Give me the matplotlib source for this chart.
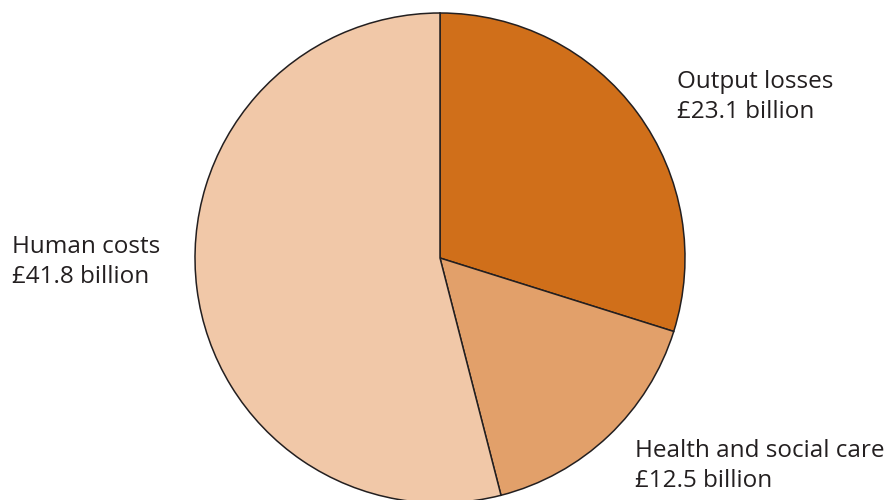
import matplotlib
matplotlib.use("Agg")
import matplotlib.pyplot as plt

# cost breakdown, £ billion
labels = ["Output losses", "Health and social care", "Human costs"]
values = [23.1, 12.5, 41.8]
value_text = ["£23.1 billion", "£12.5 billion", "£41.8 billion"]
colors = ["#D06F1A", "#E2A06A", "#F1C8A8"]

plt.rcParams['font.family'] = ['Open Sans', 'DejaVu Sans']

fig = plt.figure(figsize=(8.95, 5.0), dpi=100)
ax = fig.add_axes([0, 0, 1, 1])

ax.pie(values, colors=colors, startangle=90, counterclock=False,
       center=(440, 500 - 258), radius=245,
       wedgeprops=dict(edgecolor="#231F20", linewidth=1.1))

ax.set_xlim(0, 895)
ax.set_ylim(0, 500)
ax.set_aspect("equal")
ax.axis("off")

# label positions (left, top) in pixels from top-left
label_pos = [(677, 70), (635, 439), (12, 235)]
for lab, vt, (x, y) in zip(labels, value_text, label_pos):
    ax.text(x, 500 - y, lab + "\n" + vt, ha="left", va="top",
            fontsize=17.5, color="#231F20", linespacing=1.35)

fig.savefig("out.png", dpi=100)
